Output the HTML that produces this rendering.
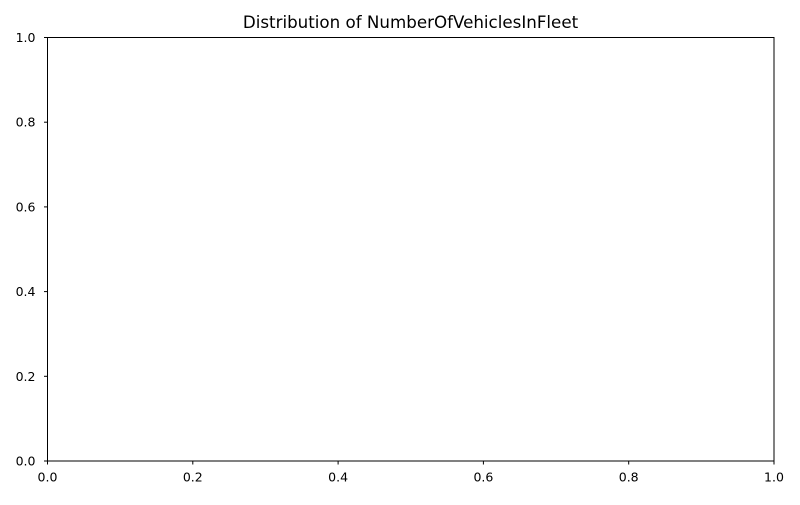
<!DOCTYPE html>
<html>
<head>
<meta charset="utf-8">
<style>
  html, body { margin:0; padding:0; background:#fff; }
  body { width:800px; height:500px; overflow:hidden; }
  svg text { font-family: "DejaVu Sans", "Liberation Sans", sans-serif; fill:#000; }
</style>
</head>
<body>
<svg id="chart" width="800" height="500" viewBox="0 0 800 500" xmlns="http://www.w3.org/2000/svg">
  <rect x="0" y="0" width="800" height="500" fill="#fff"/>
  <text x="410.5" y="28" text-anchor="middle" font-size="16.7">Distribution of NumberOfVehiclesInFleet</text>
  <g id="xticks"></g>
  <g id="yticks"></g>
  <rect x="47.5" y="37.5" width="726.5" height="423.5" fill="none" stroke="#000" stroke-width="1"/>
</svg>
<script>
const xTickValues = [0.0, 0.2, 0.4, 0.6, 0.8, 1.0];
const yTickValues = [0.0, 0.2, 0.4, 0.6, 0.8, 1.0];
const xDomain = [0, 1];
const yDomain = [0, 1];

(function () {
  const plotLeft = 47.5, plotRight = 774, plotTop = 37.5, plotBottom = 461;
  function xScale(v) { return plotLeft + (v - xDomain[0]) / (xDomain[1] - xDomain[0]) * (plotRight - plotLeft); }
  function yScale(v) { return plotBottom - (v - yDomain[0]) / (yDomain[1] - yDomain[0]) * (plotBottom - plotTop); }

  const NS = "http://www.w3.org/2000/svg";
  const xg = document.getElementById('xticks');
  const yg = document.getElementById('yticks');

  xTickValues.forEach(v => {
    const x = xScale(v);
    const t = document.createElementNS(NS, 'line');
    t.setAttribute('x1', x); t.setAttribute('x2', x);
    t.setAttribute('y1', plotBottom); t.setAttribute('y2', plotBottom + 3.5);
    t.setAttribute('stroke', '#000');
    
    
    xg.appendChild(t);
    const l = document.createElementNS(NS, 'text');
    l.setAttribute('x', x); l.setAttribute('y', plotBottom + 20.5);
    l.setAttribute('text-anchor', 'middle');
    l.setAttribute('font-size', '12.5');
    l.textContent = v.toFixed(1);
    
    
    xg.appendChild(l);
  });

  yTickValues.forEach(v => {
    const y = yScale(v);
    const t = document.createElementNS(NS, 'line');
    t.setAttribute('x1', plotLeft - 3.5); t.setAttribute('x2', plotLeft);
    t.setAttribute('y1', y); t.setAttribute('y2', y);
    t.setAttribute('stroke', '#000');
    
    
    yg.appendChild(t);
    const l = document.createElementNS(NS, 'text');
    l.setAttribute('x', plotLeft - 12); l.setAttribute('y', y + 4.5);
    l.setAttribute('text-anchor', 'end');
    l.setAttribute('font-size', '12.5');
    l.textContent = v.toFixed(1);
    
    
    yg.appendChild(l);
  });
})();
</script>
</body>
</html>
